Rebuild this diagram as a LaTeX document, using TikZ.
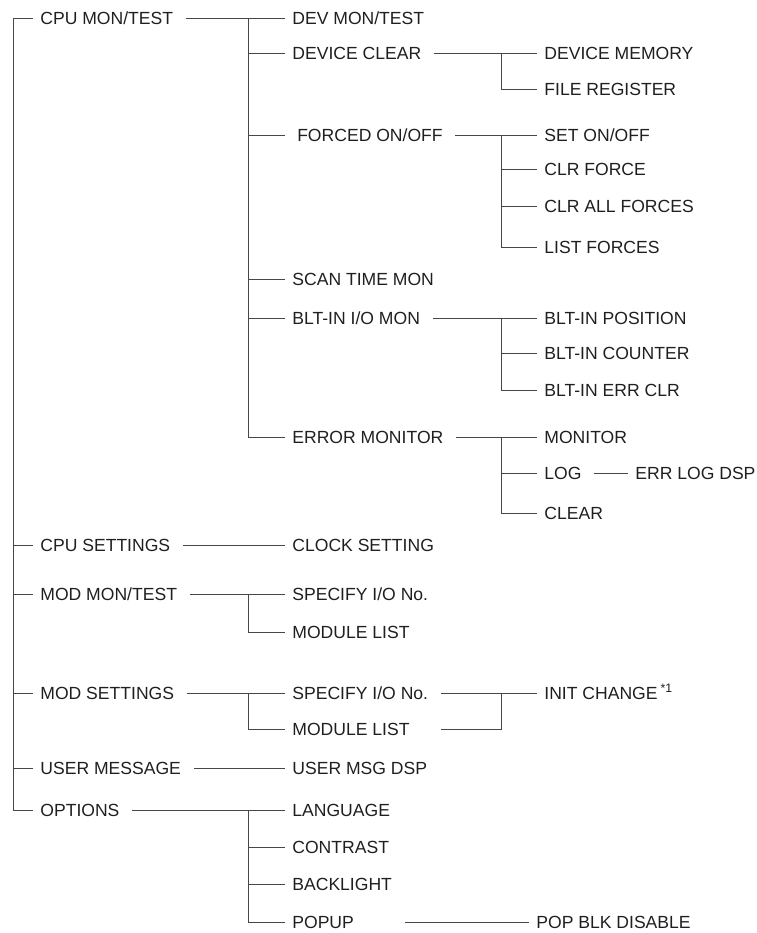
\documentclass[tikz,border=0pt]{standalone}
\usepackage{fontspec}
\setmainfont{Liberation Sans}

\begin{document}
\begin{tikzpicture}[x=0.02cm, y=-0.02cm,
  item/.style={anchor=west, inner xsep=4pt, inner ysep=0pt, text height=7.2pt,
    text depth=0pt, font=\fontsize{10}{12}\selectfont, text=black!88},
  wire/.style={draw=black!72, line width=0.5pt},
  from/.style={shorten <=3pt}]
\useasboundingbox (0,0) rectangle (757,933);

% top level
\node[item] (cpu) at (33,18) {CPU MON/TEST};
\node[item] (cpuset) at (33,545) {CPU SETTINGS};
\node[item] (modmon) at (33,594) {MOD MON/TEST};
\node[item] (modset) at (33,693) {MOD SETTINGS};
\node[item] (usermsg) at (33,768) {USER MESSAGE};
\node[item] (options) at (33,810) {OPTIONS};

\coordinate (trunk) at (13,18);
\draw[wire] (cpu.west) -- (trunk) |- (options.west);
\foreach \n in {cpuset,modmon,modset,usermsg}
  \draw[wire] (\n.west) -- (\n.west -| trunk);

% cpu mon/test
\node[item] (devmon) at (285,18) {DEV MON/TEST};
\node[item] (devclr) at (285,53) {DEVICE CLEAR};
\node[item] (forced) at (285,135) {\ FORCED ON/OFF};
\node[item] (scan) at (285,279) {SCAN TIME MON};
\node[item] (bltio) at (285,318) {BLT-IN I/O MON};
\node[item] (errmon) at (285,437) {ERROR MONITOR};

\coordinate (bus1) at (248,18);
\draw[wire,from] (cpu.east) -- (devmon.west);
\draw[wire] (bus1) |- (errmon.west);
\foreach \n in {devclr,forced,scan,bltio}
  \draw[wire] (\n.west) -- (\n.west -| bus1);

\node[item] (devmem) at (537,53) {DEVICE MEMORY};
\node[item] (filereg) at (537,89) {FILE REGISTER};
\coordinate (bus2) at (501,53);
\draw[wire,from] (devclr.east) -- (devmem.west);
\draw[wire] (bus2) |- (filereg.west);

\node[item] (seton) at (537,135) {SET ON/OFF};
\node[item] (clrf) at (537,169) {CLR FORCE};
\node[item] (clrall) at (537,206) {CLR ALL FORCES};
\node[item] (listf) at (537,247) {LIST FORCES};
\draw[wire,from] (forced.east) -- (seton.west);
\draw[wire] (seton.west -| bus2) |- (listf.west);
\foreach \n in {clrf,clrall}
  \draw[wire] (\n.west) -- (\n.west -| bus2);

\node[item] (bltpos) at (537,318) {BLT-IN POSITION};
\node[item] (bltcnt) at (537,353) {BLT-IN COUNTER};
\node[item] (blterr) at (537,390) {BLT-IN ERR CLR};
\draw[wire,from] (bltio.east) -- (bltpos.west);
\draw[wire] (bltpos.west -| bus2) |- (blterr.west);
\draw[wire] (bltcnt.west) -- (bltcnt.west -| bus2);

\node[item] (monitor) at (537,437) {MONITOR};
\node[item] (log) at (537,473) {LOG};
\node[item] (clear) at (537,513) {CLEAR};
\node[item] (errlog) at (628,473) {ERR LOG DSP};
\draw[wire,from] (errmon.east) -- (monitor.west);
\draw[wire] (monitor.west -| bus2) |- (clear.west);
\draw[wire] (log.west) -- (log.west -| bus2);
\draw[wire,from] (log.east) -- (errlog.west);

% cpu settings
\node[item] (clock) at (285,545) {CLOCK SETTING};
\draw[wire,from] (cpuset.east) -- (clock.west);

% mod mon/test
\node[item] (spec1) at (285,594) {SPECIFY I/O No.};
\node[item] (modlst1) at (285,632) {MODULE LIST};
\draw[wire,from] (modmon.east) -- (spec1.west);
\draw[wire] (spec1.west -| bus1) |- (modlst1.west);

% mod settings
\node[item] (spec2) at (285,693) {SPECIFY I/O No.};
\node[item] (modlst2) at (285,729) {MODULE LIST};
\node[item] (init) at (537,693) {INIT CHANGE\,\textsuperscript{*1}};
\draw[wire,from] (modset.east) -- (spec2.west);
\draw[wire] (spec2.west -| bus1) |- (modlst2.west);
\draw[wire,from] (spec2.east) -- (init.west);
\draw[wire,from] (spec2.east |- modlst2.east) -| (init.west -| bus2);

% user message
\node[item] (usrdsp) at (285,768) {USER MSG DSP};
\draw[wire,from] (usermsg.east) -- (usrdsp.west);

% options
\node[item] (lang) at (285,810) {LANGUAGE};
\node[item] (contrast) at (285,847) {CONTRAST};
\node[item] (backlt) at (285,884) {BACKLIGHT};
\node[item] (popup) at (285,922) {POPUP};
\node[item] (popblk) at (529,922) {POP BLK DISABLE};
\draw[wire,from] (options.east) -- (lang.west);
\draw[wire] (lang.west -| bus1) |- (popup.west);
\foreach \n in {contrast,backlt}
  \draw[wire] (\n.west) -- (\n.west -| bus1);
\draw[wire,shorten <=25pt] (popup.east) -- (popblk.west);
\end{tikzpicture}
\end{document}
